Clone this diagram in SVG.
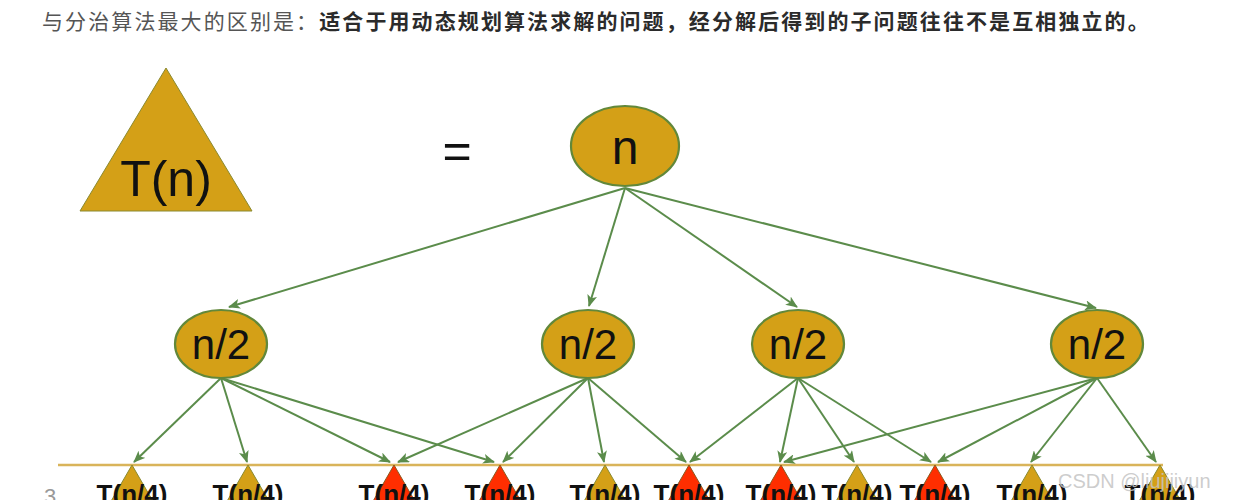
<svg xmlns="http://www.w3.org/2000/svg" width="1233" height="500" viewBox="0 0 1233 500">
<defs>
<marker id="ah" viewBox="0 0 12 10" refX="11" refY="5" markerWidth="12" markerHeight="10" markerUnits="userSpaceOnUse" orient="auto">
<path d="M0,0 L12,5 L0,10 L3,5 z" fill="#5b8c4b"/>
</marker>
<style>
.title{font-family:"Noto Sans CJK SC","Noto Sans",sans-serif;font-size:21px;letter-spacing:2.1px}
.reg{fill:#555555}
.bold{fill:#2b2b2b;font-weight:bold}
.node{fill:#D4A017;stroke:#62883a;stroke-width:2.2}
.lbl{font-family:"Liberation Sans",Arial,sans-serif;fill:#111;text-anchor:middle}
.edge{stroke:#5b8c4b;stroke-width:2;fill:none;marker-end:url(#ah)}
.gold{fill:#D4A017;stroke:#8a8a30;stroke-width:1}
.red{fill:#FF2E00;stroke:#8a5a20;stroke-width:1}
.small{font-family:"Liberation Sans",Arial,sans-serif;font-weight:bold;font-size:26px;fill:#111;text-anchor:middle}
</style>
</defs>
<rect width="1233" height="500" fill="#ffffff"/>
<text class="title" x="42" y="29"><tspan class="reg">与分治算法最大的区别是：</tspan><tspan class="bold">适合于用动态规划算法求解的问题，经分解后得到的子问题往往不是互相独立的。</tspan></text>

<g id="tn">
<polygon class="gold" points="166,68 252,211 80,211"/>
<text class="lbl" x="166" y="196" font-size="50">T(n)</text>
</g>
<g id="eq"><text class="lbl" x="457" y="168" font-size="50">=</text></g>

<g id="connectors">
<line class="edge" x1="625" y1="188" x2="229" y2="307"/>
<line class="edge" x1="625" y1="188" x2="589" y2="306"/>
<line class="edge" x1="625" y1="188" x2="797" y2="307"/>
<line class="edge" x1="625" y1="188" x2="1096" y2="308"/>

<line class="edge" x1="221" y1="378" x2="134" y2="462"/>
<line class="edge" x1="221" y1="378" x2="247" y2="462"/>
<line class="edge" x1="221" y1="378" x2="390" y2="462"/>
<line class="edge" x1="221" y1="378" x2="494" y2="462"/>

<line class="edge" x1="588" y1="378" x2="398" y2="462"/>
<line class="edge" x1="588" y1="378" x2="503" y2="462"/>
<line class="edge" x1="588" y1="378" x2="604" y2="462"/>
<line class="edge" x1="588" y1="378" x2="686" y2="462"/>

<line class="edge" x1="798" y1="378" x2="690" y2="462"/>
<line class="edge" x1="798" y1="378" x2="780" y2="462"/>
<line class="edge" x1="798" y1="378" x2="854" y2="462"/>
<line class="edge" x1="798" y1="378" x2="931" y2="462"/>

<line class="edge" x1="1097" y1="378" x2="784" y2="462"/>
<line class="edge" x1="1097" y1="378" x2="938" y2="462"/>
<line class="edge" x1="1097" y1="378" x2="1031" y2="462"/>
<line class="edge" x1="1097" y1="378" x2="1156" y2="462"/>
</g>

<g id="root">
<ellipse class="node" cx="625" cy="146" rx="54" ry="40"/>
<text class="lbl" x="625" y="164" font-size="48">n</text>
</g>
<g id="n2a"><ellipse class="node" cx="221" cy="344" rx="46" ry="34"/><text class="lbl" x="221" y="359" font-size="42">n/2</text></g>
<g id="n2b"><ellipse class="node" cx="588" cy="344" rx="46" ry="34"/><text class="lbl" x="588" y="359" font-size="42">n/2</text></g>
<g id="n2c"><ellipse class="node" cx="798" cy="344" rx="46" ry="34"/><text class="lbl" x="798" y="359" font-size="42">n/2</text></g>
<g id="n2d"><ellipse class="node" cx="1097" cy="344" rx="46" ry="34"/><text class="lbl" x="1097" y="359" font-size="42">n/2</text></g>

<line x1="58" y1="465" x2="1163" y2="465" stroke="#d9b45a" stroke-width="2.5"/>

<g id="t1"><polygon class="gold" points="132,465 165,522 99,522"/><text class="small" x="132" y="503">T(n/4)</text></g>
<g id="t2"><polygon class="gold" points="248,465 281,522 215,522"/><text class="small" x="248" y="503">T(n/4)</text></g>
<g id="t3"><polygon class="red" points="394,465 427,522 361,522"/><text class="small" x="394" y="503">T(n/4)</text></g>
<g id="t4"><polygon class="red" points="500,465 533,522 467,522"/><text class="small" x="500" y="503">T(n/4)</text></g>
<g id="t5"><polygon class="gold" points="605,465 638,522 572,522"/><text class="small" x="605" y="503">T(n/4)</text></g>
<g id="t6"><polygon class="red" points="689,465 722,522 656,522"/><text class="small" x="689" y="503">T(n/4)</text></g>
<g id="t7"><polygon class="red" points="781,465 814,522 748,522"/><text class="small" x="781" y="503">T(n/4)</text></g>
<g id="t8"><polygon class="gold" points="857,465 890,522 824,522"/><text class="small" x="857" y="503">T(n/4)</text></g>
<g id="t9"><polygon class="red" points="935,465 968,522 902,522"/><text class="small" x="935" y="503">T(n/4)</text></g>
<g id="t10"><polygon class="gold" points="1032,465 1065,522 999,522"/><text class="small" x="1032" y="503">T(n/4)</text></g>
<g id="t11"><polygon class="gold" points="1160,465 1193,522 1127,522"/><text class="small" x="1160" y="503">T(n/4)</text></g>

<text x="44" y="504" font-family="Liberation Sans,Arial,sans-serif" font-size="22" fill="#999">3 .</text>
<text x="1058" y="488" font-family="Liberation Sans,Arial,sans-serif" font-size="20" fill="#c4c4c4" fill-opacity="0.85">CSDN @liujijiyun</text>
</svg>
